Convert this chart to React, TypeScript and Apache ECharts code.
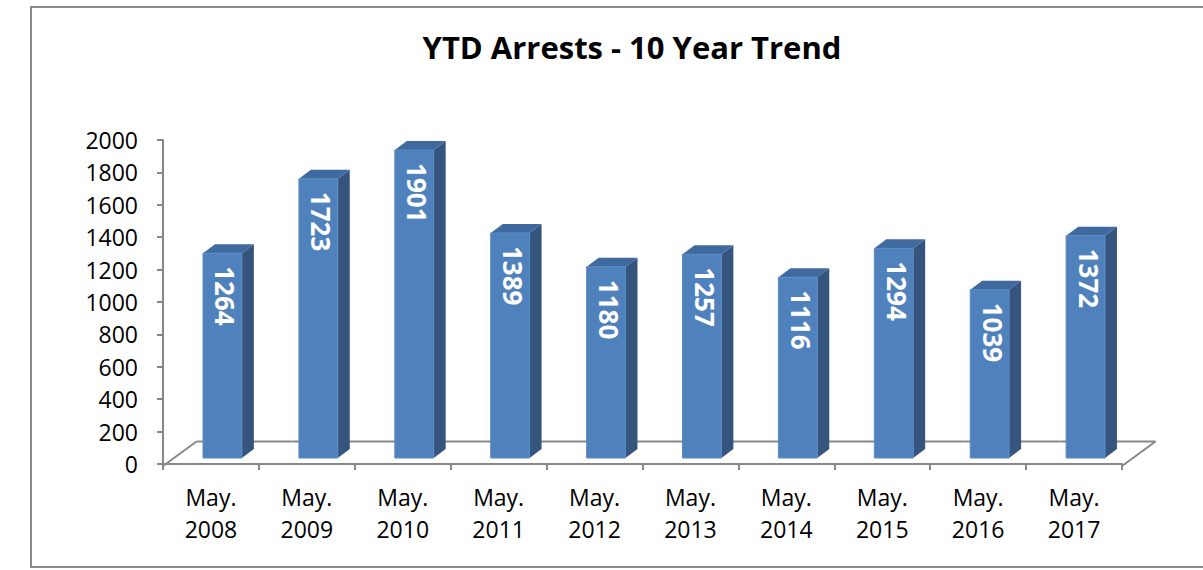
import React, { useEffect, useRef } from "react";
import * as echarts from "echarts";

const titleText = "YTD Arrests - 10 Year Trend";
const categories = [
  "May.\n2008",
  "May.\n2009",
  "May.\n2010",
  "May.\n2011",
  "May.\n2012",
  "May.\n2013",
  "May.\n2014",
  "May.\n2015",
  "May.\n2016",
  "May.\n2017",
];
const arrests = [1264, 1723, 1901, 1389, 1180, 1257, 1116, 1294, 1039, 1372];
const yMin = 0;
const yMax = 2000;
const yInterval = 200;

const FONT = "'Open Sans', 'Noto Sans', sans-serif";
const AXIS_GRAY = "#878787";
const FRONT = "#4F81BD";
const SIDE = "#35557F";
const TOP = "#3F6A9F";

export default function App() {
  const ref = useRef<HTMLDivElement>(null);

  useEffect(() => {
    if (!ref.current) return;
    const chart = echarts.init(ref.current, null, { renderer: "svg" });

    const floorDX = 33.5;
    const floorDY = 24.5;

    const option: any = {
      animation: false,
      backgroundColor: "#ffffff",
      title: {
        text: titleText,
        left: 627,
        top: 26,
        textAlign: "center",
        textStyle: {
          fontFamily: FONT,
          fontWeight: "bold",
          fontSize: 31,
          color: "#000",
        },
      },
      graphic: [
        {
          type: "rect",
          shape: { x: 31, y: 7, width: 1200, height: 560 },
          style: { fill: "none", stroke: "#8a8a8a", lineWidth: 2 },
          silent: true,
          z: 0,
        },
      ],
      grid: { left: 163, right: 81, top: 140, bottom: 106, containLabel: false },
      xAxis: {
        type: "category",
        data: categories,
        offset: 2,
        axisLine: { show: true, lineStyle: { color: AXIS_GRAY, width: 2 } },
        axisTick: {
          show: true,
          alignWithLabel: false,
          length: 6,
          lineStyle: { color: AXIS_GRAY, width: 2 },
        },
        axisLabel: {
          margin: 15,
          fontFamily: FONT,
          fontSize: 23,
          lineHeight: 32,
          color: "#000",
          interval: 0,
        },
        splitLine: { show: false },
      },
      yAxis: {
        type: "value",
        min: yMin,
        max: yMax,
        interval: yInterval,
        axisLine: { show: true, lineStyle: { color: AXIS_GRAY, width: 2 } },
        axisTick: { show: true, length: 6, lineStyle: { color: AXIS_GRAY, width: 2 } },
        axisLabel: {
          margin: 25,
          fontFamily: FONT,
          fontSize: 23,
          color: "#000",
          formatter: (val: number) => String(val),
        },
        splitLine: { show: false },
      },
      series: [
        {
          type: "custom",
          name: "floor",
          silent: true,
          z: 1,
          data: categories.map((_, i) => [i, 0]),
          encode: { x: 0, y: 1 },
          renderItem: (params: any, api: any) => {
            const i = api.value(0);
            const base = api.coord([i, 0]);
            const cw = api.size([1, 0])[0];
            const y0 = base[1] + 2;
            const xl = base[0] - cw / 2;
            const xr = base[0] + cw / 2;
            const style = { stroke: AXIS_GRAY, lineWidth: 2, fill: "none" };
            const children: any[] = [
              {
                type: "line",
                shape: { x1: xl + floorDX, y1: y0 - floorDY, x2: xr + floorDX, y2: y0 - floorDY },
                style,
              },
            ];
            if (i === 0) {
              children.push({
                type: "line",
                shape: { x1: xl, y1: y0, x2: xl + floorDX, y2: y0 - floorDY },
                style,
              });
            }
            if (i === categories.length - 1) {
              children.push({
                type: "line",
                shape: { x1: xr, y1: y0, x2: xr + floorDX, y2: y0 - floorDY },
                style,
              });
            }
            return { type: "group", children };
          },
        },
        {
          type: "custom",
          name: "YTD Arrests",
          z: 2,
          data: arrests.map((v, i) => [i, v]),
          encode: { x: 0, y: 1 },
          renderItem: (params: any, api: any) => {
            const i = api.value(0);
            const v = api.value(1);
            const base = api.coord([i, 0]);
            const top = api.coord([i, v]);
            const cw = api.size([1, 0])[0];
            const fw = cw * 0.405;
            const shiftX = 11.5;
            const shiftY = 6;
            const dx = 12;
            const dy = 9;
            const x0 = base[0] + shiftX - fw / 2;
            const x1 = x0 + fw;
            const yb = base[1] - shiftY;
            const yt = top[1] - shiftY;
            return {
              type: "group",
              children: [
                {
                  type: "polygon",
                  shape: {
                    points: [
                      [x1, yb],
                      [x1, yt],
                      [x1 + dx, yt - dy],
                      [x1 + dx, yb - dy],
                    ],
                  },
                  style: { fill: SIDE },
                },
                {
                  type: "polygon",
                  shape: {
                    points: [
                      [x0, yt],
                      [x1, yt],
                      [x1 + dx, yt - dy],
                      [x0 + dx, yt - dy],
                    ],
                  },
                  style: { fill: TOP },
                },
                {
                  type: "rect",
                  shape: { x: x0, y: yt, width: fw, height: yb - yt },
                  style: { fill: FRONT, stroke: "#5a8ac4", lineWidth: 1 },
                },
                {
                  type: "text",
                  x: (x0 + x1) / 2 + 3,
                  y: yt + 13,
                  rotation: -Math.PI / 2,
                  style: {
                    text: String(v),
                    fill: "#ffffff",
                    fontFamily: FONT,
                    fontWeight: "bold",
                    fontSize: 26,
                    align: "left",
                    verticalAlign: "middle",
                  },
                },
              ],
            };
          },
        },
      ],
    };

    chart.setOption(option);
    return () => {
      chart.dispose();
    };
  }, []);

  return (
    <div
      ref={ref}
      style={{ position: "absolute", left: 0, top: 0, width: 1203, height: 570 }}
    />
  );
}
